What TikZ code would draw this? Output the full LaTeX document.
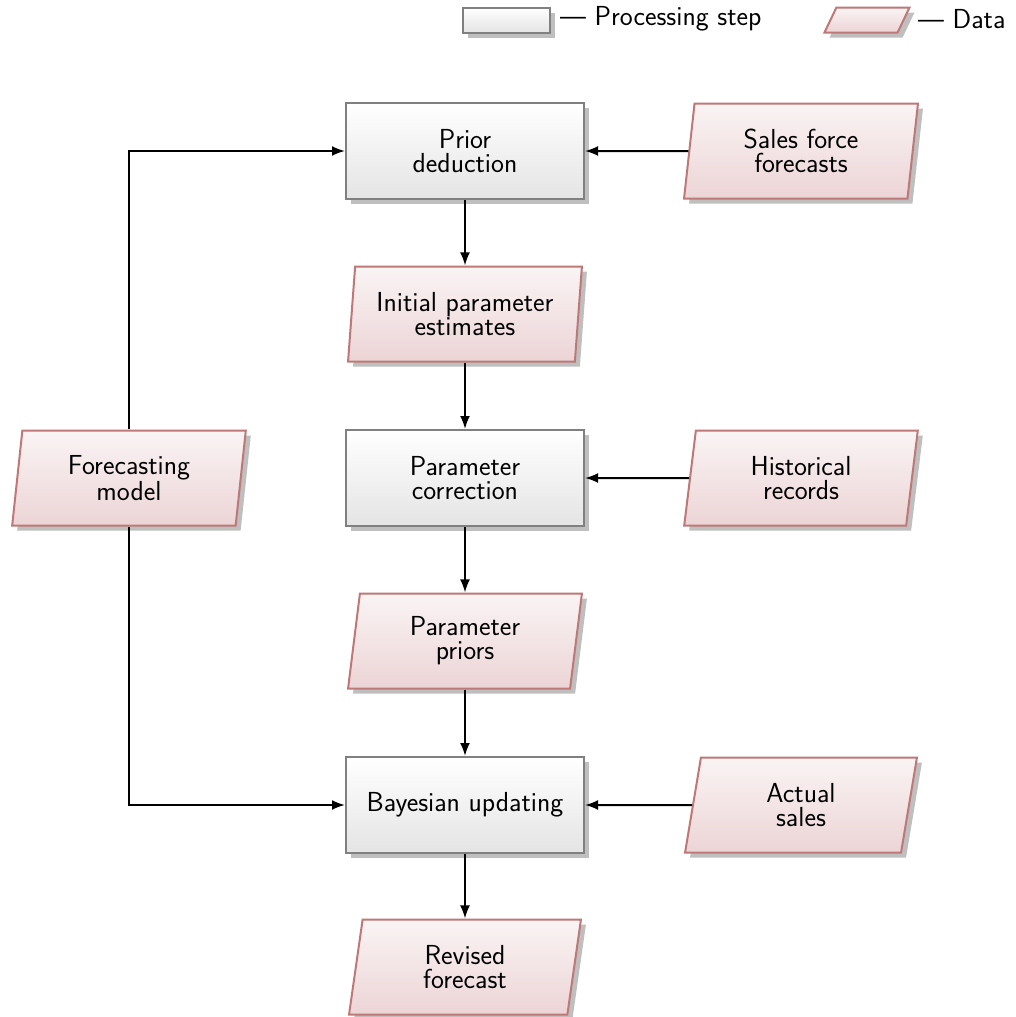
\documentclass[tikz,border=0pt]{standalone}
\usetikzlibrary{shapes.geometric,shadows,arrows.meta}
\definecolor{procborder}{RGB}{128,128,128}
\definecolor{databorder}{RGB}{190,120,120}
\definecolor{databot}{RGB}{236,212,214}
\definecolor{datatop}{RGB}{250,244,244}
\definecolor{procbot}{RGB}{228,228,228}
\tikzset{
  every node/.style={font=\sffamily\fontsize{27.5}{24}\selectfont, align=center},
  procbox/.style={rectangle, draw=procborder, line width=2pt, top color=white, bottom color=procbot,
    minimum width=238pt, minimum height=96pt, inner sep=2pt,
    drop shadow={shadow xshift=5pt, shadow yshift=-5pt, fill=black!25, opacity=1}},
  databox/.style={trapezium, trapezium left angle=83, trapezium right angle=97, trapezium stretches=true,
    draw=databorder, line width=2pt, top color=datatop, bottom color=databot,
    minimum width=234pt, minimum height=95pt, inner sep=2pt,
    drop shadow={shadow xshift=5pt, shadow yshift=-5pt, fill=black!25, opacity=1}},
  flow/.style={line width=2pt, -{Latex[length=13pt,width=10pt]}},
}
\begin{document}
\begin{tikzpicture}[x=1pt,y=-1pt]
\useasboundingbox (0,0) rectangle (1016,1017);
% legend
\node[procbox, minimum width=87pt, minimum height=25pt] (lp) at (506,20) {};
\node[anchor=west, inner sep=0pt] (lpt) at (560,19) {--- Processing step};
\node[databox, minimum width=85pt, minimum height=25pt, trapezium left angle=79, trapezium right angle=101] (ld) at (867,20) {};
\node[anchor=west, inner sep=0pt] (ldt) at (918,19) {--- Data};
% main nodes
\node[procbox] (prior) at (465,151) {Prior\\deduction};
\node[databox] (init) at (465,314) {Initial parameter\\estimates};
\node[procbox] (corr) at (465,478) {Parameter\\correction};
\node[databox] (priors) at (465,641) {Parameter\\priors};
\node[procbox] (bayes) at (465,805) {Bayesian updating};
\node[databox] (rev) at (465,967) {Revised\\forecast};
\node[databox] (sales) at (801,151) {Sales force\\forecasts};
\node[databox] (hist) at (801,478) {Historical\\records};
\node[databox] (act) at (801,805) {Actual\\sales};
\node[databox] (model) at (129,478) {Forecasting\\model};
% connectors
\draw[flow] (prior) -- (init);
\draw[flow] (init) -- (corr);
\draw[flow] (corr) -- (priors);
\draw[flow] (priors) -- (bayes);
\draw[flow] (bayes) -- (rev);
\draw[flow] (sales) -- (prior);
\draw[flow] (hist) -- (corr);
\draw[flow] (act) -- (bayes);
\draw[flow] (model.north) |- (prior.west);
\draw[flow] (model.south) |- (bayes.west);
\end{tikzpicture}
\end{document}
